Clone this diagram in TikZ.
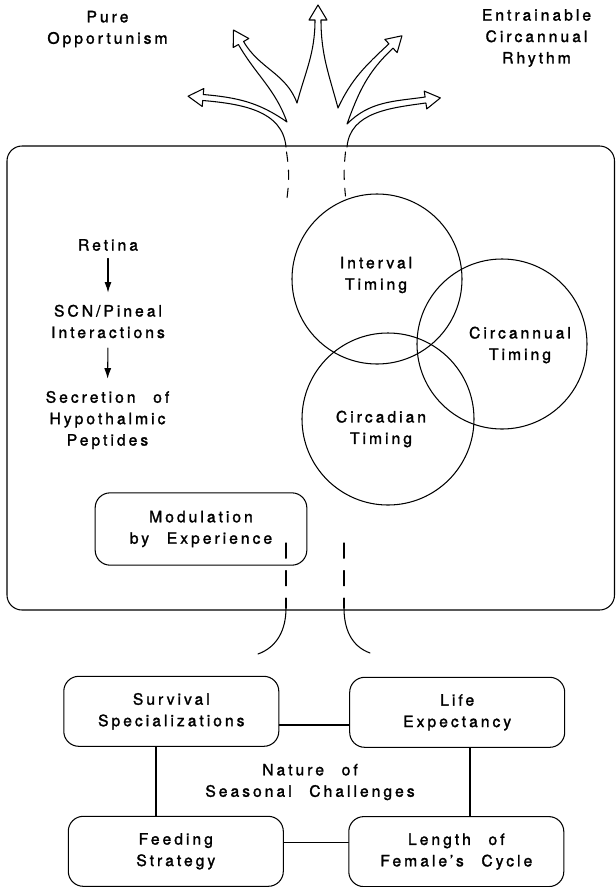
\documentclass[tikz,border=0pt]{standalone}
\usepackage{fontspec}
\setmainfont{TeX Gyre Heros}[LetterSpace=19, FakeBold=1.6, WordSpace=2.4]
\usetikzlibrary{arrows.meta,calc}

\tikzset{
	txt/.style={align=center, inner sep=1pt, font=\fontsize{13.4}{18.3}\selectfont},
	box/.style={txt, draw, rounded corners=0.45cm, minimum width=6.45cm, minimum height=2.1cm},
	ring/.style={draw, circle, inner sep=0pt},
	arr/.style={-{Latex[length=9pt,width=6pt]}},
	dashA/.style={dash pattern=on 8pt off 7.5pt},
	dashB/.style={dash pattern=on 13pt off 10.5pt},
	% open arrow head of the tree, #1 = back centre, #2 = direction
	head/.style 2 args={insert path={-- ($(#1)+(#2+90:9)$) -- ($(#1)+(#2:15)$)
			-- ($(#1)-(#2+90:9)$) -- ($(#1)-(#2+90:3)$)}},
}

\begin{document}
\begin{tikzpicture}[line cap=round, line join=round, line width=0.9pt, x=0.03cm, y=0.03cm]
	\useasboundingbox (0,0) rectangle (616,-887);
	
	% outcomes at the top
	\node[txt] (pure) at (107.5,-29) {Pure\\Opportunism};
	\node[txt] (entr) at (536.5,-38) {Entrainable\\Circannual\\Rhythm};
	
	% big frame
	\draw[rounded corners=0.45cm] (7,-146) rectangle (614.5,-610);
	
	% tree of arrows
	\coordinate (BL) at (286,-147);
	\coordinate (BR) at (347,-147);
	\coordinate (J12) at (287,-122);
	\coordinate (N23) at (297,-103);
	\coordinate (N34) at (338,-108);
	\coordinate (J45) at (347,-124);
	\coordinate (H1) at (203,-97.5);
	\coordinate (H2) at (241,-43);
	\coordinate (H3) at (318,-20);
	\coordinate (H4) at (391,-46);
	\coordinate (H5) at (425.5,-100);
	\draw (BL) to[out=95,in=-5] ($(H1)+(265:3)$) [head={H1}{175}]
		to[out=-5,in=145] (J12)
		to[out=110,in=-60] ($(H2)+(210:3)$) [head={H2}{120}]
		to[out=-60,in=110] (N23)
		to[out=75,in=-90] ($(H3)+(180:3)$) [head={H3}{90}]
		to[out=-90,in=105] (N34)
		to[out=65,in=223] ($(H4)+(133:3)$) [head={H4}{43}]
		to[out=223,in=70] (J45)
		to[out=45,in=188] ($(H5)+(98:3)$) [head={H5}{8}]
		to[out=188,in=85] (BR);
	
	% dashed trunk under the frame top
	\coordinate (tl1) at (286.5,-152);
	\coordinate (tl2) at (287,-198);
	\coordinate (tr1) at (345.5,-152);
	\coordinate (tr2) at (345.5,-196);
	\draw[dashA] (tl1) to[bend left=8] (tl2);
	\draw[dashA] (tr1) to[bend right=6] (tr2);
	
	% pathway on the left
	\node[txt] (retina) at (108,-245) {Retina};
	\node[txt] (scn) at (108,-321.5) {SCN/Pineal\\Interactions};
	\node[txt] (secr) at (107.5,-420) {Secretion of\\Hypothalmic\\Peptides};
	\draw[arr, shorten <=5pt, shorten >=9pt] (retina.south) -- (scn.north);
	\draw[arr, shorten <=7pt, shorten >=9pt] (scn.south) -- (secr.north);
	
	% three timing circles
	\node[ring, minimum size=5.1cm] (cint) at (377,-279) {};
	\node[ring, minimum size=5.1cm] (cann) at (502,-344) {};
	\node[ring, minimum size=5.16cm] (cdia) at (388,-419) {};
	\node[txt] (tint) at (376,-275) {Interval\\Timing};
	\node[txt] (tann) at (520,-345) {Circannual\\Timing};
	\node[txt] (tdia) at (381,-429) {Circadian\\Timing};
	
	\node[box, minimum width=6.35cm, minimum height=2.17cm] (modu) at (201,-529) {Modulation\\by Experience};
	
	% roots going down
	\coordinate (rl1) at (286,-543);
	\coordinate (rl2) at (286,-608);
	\coordinate (rl3) at (258,-654);
	\coordinate (rr1) at (344,-543);
	\coordinate (rr2) at (344,-608);
	\coordinate (rr3) at (370,-653);
	\draw[dashB] (rl1) -- (rl2);
	\draw[dashB] (rr1) -- (rr2);
	\draw (rl2) to[out=-90,in=20] (rl3);
	\draw (rr2) to[out=-90,in=160] (rr3);
	
	% seasonal challenges
	\node[box] (surv) at (171.3,-711.3) {Survival\\Specializations};
	\node[box] (life) at (457.2,-712.3) {Life\\Expectancy};
	\node[box] (feed) at (175.8,-851.3) {Feeding\\Strategy};
	\node[box] (fem) at (456.3,-851.6) {Length of\\Female's Cycle};
	\node[txt] (nature) at (310,-782) {Nature of\\Seasonal Challenges};
	\draw (surv.east |- 0,-725) -- (life.west |- 0,-725);
	\draw (feed.east |- 0,-842.7) -- (fem.west |- 0,-842.7);
	\draw (surv.south -| 156,0) -- (feed.north -| 156,0);
	\draw (life.south -| 470,0) -- (fem.north -| 470,0);
\end{tikzpicture}
\end{document}
